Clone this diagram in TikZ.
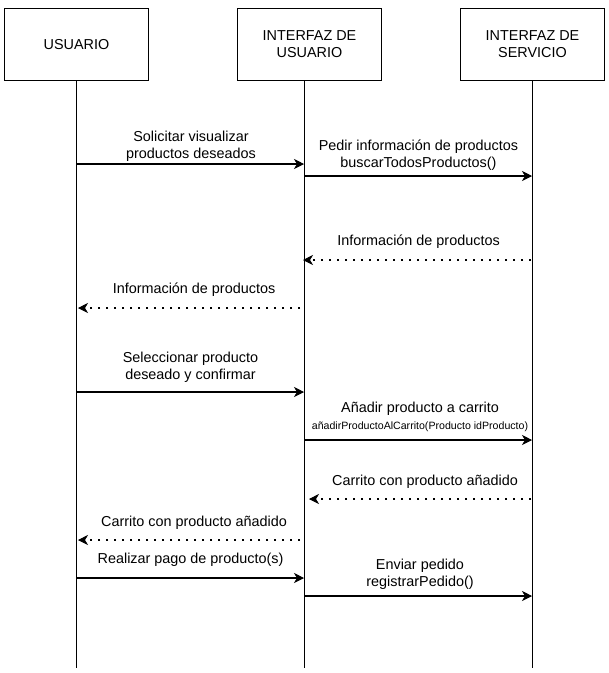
\documentclass[tikz,border=0pt]{standalone}
\usepackage{fontspec}
\setmainfont{Liberation Sans}
\usetikzlibrary{arrows.meta,positioning}

\tikzset{
  actorbox/.style={draw,line width=1.2pt,minimum width=144pt,minimum height=72pt,
    align=center,inner sep=0pt,font=\fontsize{14.4}{17.3}\selectfont},
  lifeline/.style={line width=1.2pt},
  msg/.style={line width=1.2pt,-{Stealth[length=10pt,width=10pt,inset=3pt,line width=0.6pt]}},
  reply/.style={msg,line width=2.4pt,dash pattern=on 2.4pt off 5.6pt},
  lbl/.style={align=center,inner sep=0pt,font=\fontsize{14.4}{17.3}\selectfont},
  smalllbl/.style={align=center,inner sep=0pt,font=\fontsize{10.6}{12}\selectfont}
}

\begin{document}
\begin{tikzpicture}[x=1pt,y=-1pt]
  \useasboundingbox (0,0) rectangle (609,673);

  % actors
  \node[actorbox] (usr) at (76.5,44.3) {USUARIO};
  \node[actorbox] (ui)  at (309.5,44.3) {INTERFAZ DE\\USUARIO};
  \node[actorbox] (srv) at (532.5,44.3) {INTERFAZ DE\\SERVICIO};

  % lifelines
  \coordinate (usrEnd) at (76.5,668);
  \coordinate (uiEnd)  at (304.5,668);
  \coordinate (srvEnd) at (532.5,668);
  \draw[lifeline] (usr.south) -- (usrEnd);
  \draw[lifeline] (ui.south -| uiEnd) -- (uiEnd);
  \draw[lifeline] (srv.south) -- (srvEnd);

  % message end points
  \coordinate (m1a) at (76.5,164);  \coordinate (m1b) at (304,164);
  \coordinate (m2a) at (304.5,176); \coordinate (m2b) at (532,176);
  \coordinate (m3a) at (531,260);   \coordinate (m3b) at (303,260);
  \coordinate (m4a) at (300,308);   \coordinate (m4b) at (78,308);
  \coordinate (m5a) at (76.5,392);  \coordinate (m5b) at (304,392);
  \coordinate (m6a) at (304.5,440); \coordinate (m6b) at (532,440);
  \coordinate (m7a) at (531,499);   \coordinate (m7b) at (309,499);
  \coordinate (m8a) at (300,540);   \coordinate (m8b) at (78,540);
  \coordinate (m9a) at (76.5,578);  \coordinate (m9b) at (304,578);
  \coordinate (m10a) at (304.5,596); \coordinate (m10b) at (532,596);

  % messages
  \draw[msg] (m1a) -- (m1b);
  \draw[msg] (m2a) -- (m2b);
  \draw[reply] (m3a) -- (m3b);
  \draw[reply] (m4a) -- (m4b);
  \draw[msg] (m5a) -- (m5b);
  \draw[msg] (m6a) -- (m6b);
  \draw[reply] (m7a) -- (m7b);
  \draw[reply] (m8a) -- (m8b);
  \draw[msg] (m9a) -- (m9b);
  \draw[msg] (m10a) -- (m10b);

  % labels
  \node[lbl] (l1) at (191,146) {Solicitar visualizar\\productos deseados};
  \node[lbl] (l2) at (418.5,155) {Pedir información de productos\\buscarTodosProductos()};
  \node[lbl] (l3) at (418.5,242) {Información de productos};
  \node[lbl] (l4) at (194,290) {Información de productos};
  \node[lbl] (l5) at (190.5,367.5) {Seleccionar producto\\deseado y confirmar};
  \node[lbl] (l6) at (420,409) {Añadir producto a carrito};
  \node[smalllbl] (l6b) at (420,427) {añadirProductoAlCarrito(Producto idProducto)};
  \node[lbl] (l7) at (425,482) {Carrito con producto añadido};
  \node[lbl] (l8) at (194,523) {Carrito con producto añadido};
  \node[lbl] (l9) at (190.5,560) {Realizar pago de producto(s)};
  \node[lbl] (l10) at (420,574) {Enviar pedido\\registrarPedido()};
\end{tikzpicture}
\end{document}
